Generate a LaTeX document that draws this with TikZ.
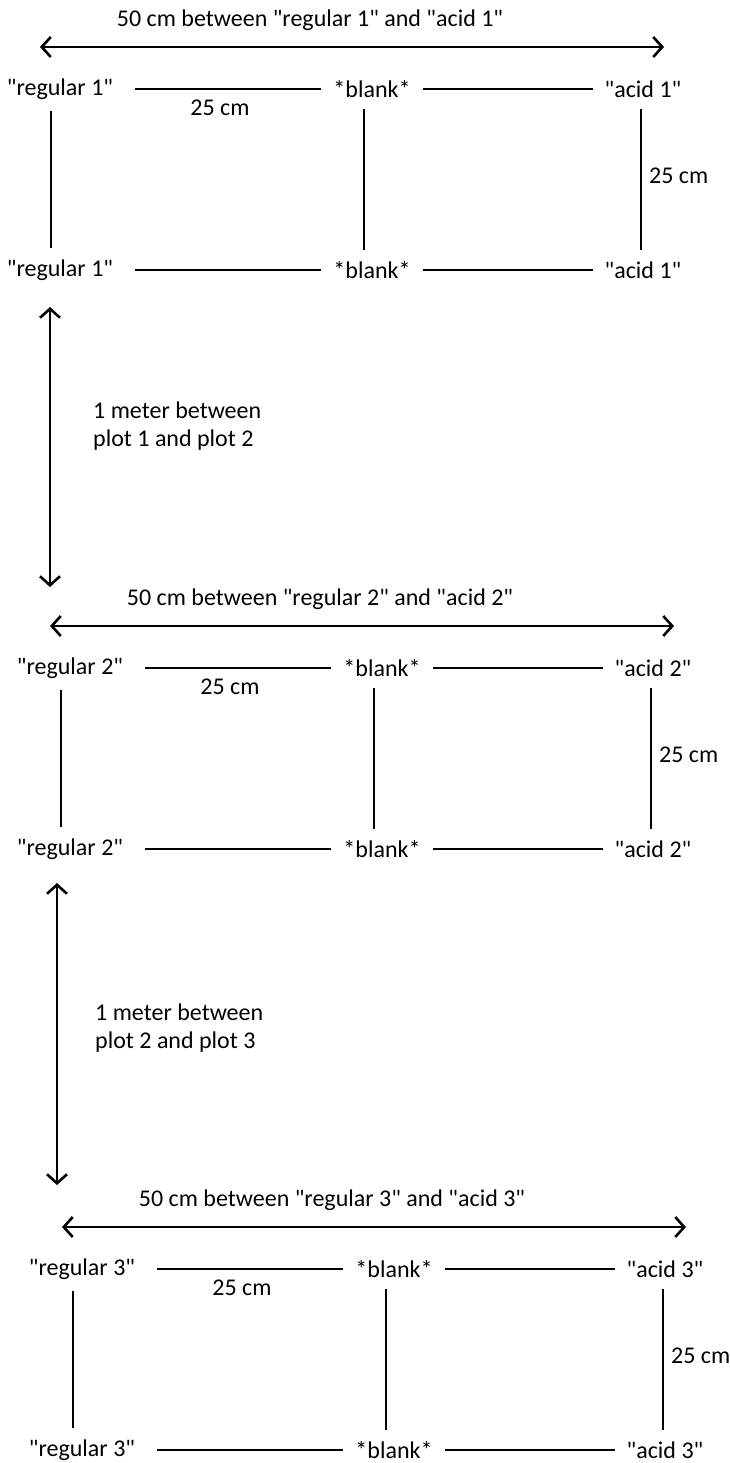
\documentclass[tikz,border=0pt]{standalone}
\usepackage{fontspec}
\setmainfont{Carlito}
\usetikzlibrary{arrows.meta}
\newcommand{\dq}[1]{\textquotedbl#1\textquotedbl}

\begin{document}
\begin{tikzpicture}[x=1pt,y=-1pt,
  plotlbl/.style={font=\fontsize{24}{28}\selectfont,inner xsep=12pt,inner ysep=11pt},
  dimlbl/.style={font=\fontsize{24}{28}\selectfont,inner sep=2pt},
  gaplbl/.style={font=\fontsize{24}{28}\selectfont,align=left,anchor=west,inner sep=0pt},
  conn/.style={line width=2.8pt},
  post/.style={line width=2.2pt},
  meas/.style={line width=2.6pt,{Straight Barb[length=9pt,width=20pt]}-{Straight Barb[length=9pt,width=20pt]}}]
  \useasboundingbox (0,0) rectangle (730,1463);
  % three plots, each one shifted a bit to the right
  \foreach \p/\dx/\dy in {1/0/0,2/10/579,3/22/1180}{
    \begin{scope}[shift={(\dx,\dy)}]
      \node[dimlbl] (span\p) at (310,20) {50 cm between \dq{regular \p} and \dq{acid \p}};
      \coordinate (west\p) at (40,47);
      \coordinate (east\p) at (664,47);
      \draw[meas] (west\p) -- (east\p);
      \node[plotlbl] (reg\p a) at (60,89) {\dq{regular \p}};
      \node[plotlbl] (blk\p a) at (372,89) {*blank*};
      \node[plotlbl] (acd\p a) at (643,89) {\dq{acid \p}};
      \node[plotlbl] (reg\p b) at (60,270) {\dq{regular \p}};
      \node[plotlbl] (blk\p b) at (372,270) {*blank*};
      \node[plotlbl] (acd\p b) at (643,270) {\dq{acid \p}};
      \draw[conn,shorten <=10pt] (reg\p a) -- (blk\p a);
      \draw[conn] (blk\p a) -- (acd\p a);
      \draw[conn,shorten <=10pt] (reg\p b) -- (blk\p b);
      \draw[conn] (blk\p b) -- (acd\p b);
      \draw[post] ([xshift=-9pt]reg\p a.south) -- ([xshift=-9pt]reg\p b.north);
      \draw[post] ([xshift=-8pt]blk\p a.south) -- ([xshift=-8pt]blk\p b.north);
      \draw[post] ([xshift=-2pt]acd\p a.south) -- ([xshift=-2pt]acd\p b.north);
      \node[dimlbl] (hdim\p) at (220,108) {25 cm};
      \node[dimlbl,anchor=west] (vdim\p) at (647,176) {25 cm};
    \end{scope}
  }
  % gaps between the plots
  \coordinate (gap1s) at (50,307);
  \coordinate (gap1e) at (50,587);
  \draw[meas] (gap1s) -- (gap1e);
  \node[gaplbl] (gap1) at (93,426) {1 meter between\\plot 1 and plot 2};
  \coordinate (gap2s) at (57,883);
  \coordinate (gap2e) at (57,1185);
  \draw[meas] (gap2s) -- (gap2e);
  \node[gaplbl] (gap2) at (95,1028) {1 meter between\\plot 2 and plot 3};
\end{tikzpicture}
\end{document}
